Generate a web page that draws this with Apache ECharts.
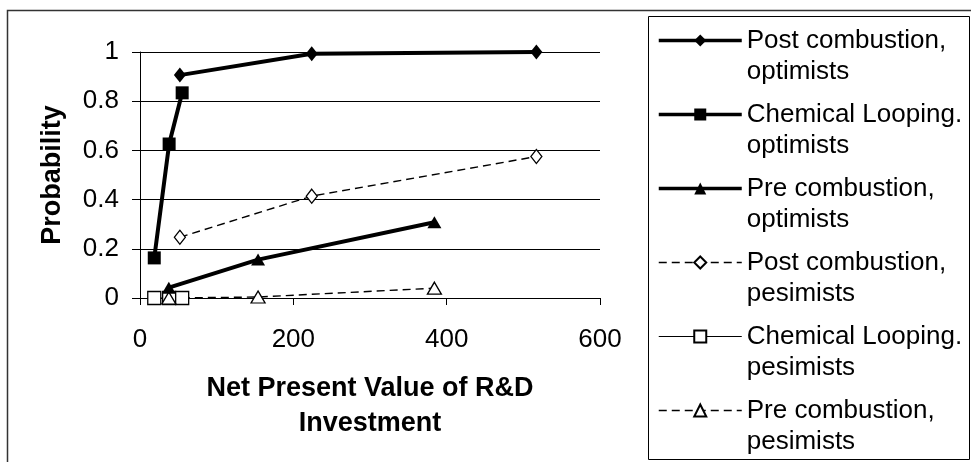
<!DOCTYPE html>
<html><head><meta charset="utf-8">
<script src="https://cdn.jsdelivr.net/npm/echarts@6/dist/echarts.min.js"></script>
<style>html,body{margin:0;padding:0;background:#fff}#c{width:971px;height:462px}</style>
</head><body><div id="c"></div>
<script>
const seriesNames = [
  'Post combustion,\noptimists',
  'Chemical Looping.\noptimists',
  'Pre combustion,\noptimists',
  'Post combustion,\npesimists',
  'Chemical Looping.\npesimists',
  'Pre combustion,\npesimists'
];
const xPostOpt = [52, 224, 517];
const yPostOpt = [0.906, 0.993, 1.0];
const xChemOpt = [18.6, 38, 55];
const yChemOpt = [0.163, 0.626, 0.834];
const xPreOpt = [37.6, 154, 384];
const yPreOpt = [0.042, 0.156, 0.308];
const xPostPes = [52, 224, 517];
const yPostPes = [0.247, 0.414, 0.575];
const xChemPes = [18.6, 38, 55];
const yChemPes = [0, 0, 0];
const xPrePes = [37.6, 154, 384];
const yPrePes = [0, 0.004, 0.04];
const xTicks = [0, 200, 400, 600];
const yTicks = [0, 0.2, 0.4, 0.6, 0.8, 1];
const xTitle = 'Net Present Value of R&D\nInvestment';
const yTitle = 'Probability';

const FONT = "'Liberation Sans', Arial, sans-serif";
const zip = (xs, ys) => xs.map((x, i) => [x, ys[i]]);

const chart = echarts.init(document.getElementById('c'), null, {renderer: 'canvas'});
function mk(name, xs, ys, sym, size, filled, width, dash) {
  return {
    name: name, type: 'line', data: zip(xs, ys),
    symbol: sym, symbolSize: size, showSymbol: true,
    lineStyle: {color: '#000', width: width, type: dash},
    itemStyle: {color: filled ? '#000' : '#fff', borderColor: '#000', borderWidth: filled ? 0 : 1.3},
    emphasis: {disabled: true},
    animation: false, clip: false
  };
}
const legendWidths = [3.5, 3.5, 3.5, 1.3, 1, 1.3];
const option = {
  animation: false,
  textStyle: {fontFamily: FONT},
  graphic: [
    {type: 'rect', shape: {x: 7.5, y: 10.5, width: 1000, height: 500}, style: {fill: 'none', stroke: '#333', lineWidth: 1.5}, z: -1, silent: true},
    {type: 'rect', shape: {x: 648.5, y: 16.5, width: 321, height: 443}, style: {fill: '#fff', stroke: '#000', lineWidth: 1}, z: 0, silent: true}
  ],
  grid: {left: 140, right: 371, top: 52, bottom: 164, containLabel: false},
  xAxis: {
    type: 'value', min: 0, max: 600, interval: 200,
    name: xTitle, nameLocation: 'middle', nameGap: 73,
    nameTextStyle: {fontFamily: FONT, fontSize: 27, fontWeight: 'bold', color: '#000', lineHeight: 35},
    axisLine: {show: true, lineStyle: {color: '#000', width: 1}},
    axisTick: {show: true, length: 7, lineStyle: {color: '#000'}},
    axisLabel: {fontFamily: FONT, fontSize: 26, color: '#000', margin: 29,
      formatter: v => xTicks.indexOf(v) >= 0 ? String(v) : ''},
    splitLine: {show: false}
  },
  yAxis: {
    type: 'value', min: 0, max: 1, interval: 0.2,
    name: yTitle, nameLocation: 'middle', nameGap: 74,
    nameTextStyle: {fontFamily: FONT, fontSize: 27, fontWeight: 'bold', color: '#000'},
    axisLine: {show: true, lineStyle: {color: '#000', width: 1}},
    axisTick: {show: true, length: 8, lineStyle: {color: '#000'}},
    axisLabel: {fontFamily: FONT, fontSize: 26, color: '#000', margin: 21,
      formatter: v => { const t = yTicks.find(k => Math.abs(k - v) < 1e-9); return t === undefined ? '' : String(t); }},
    splitLine: {show: true, lineStyle: {color: '#000', width: 1}}
  },
  legend: {
    orient: 'vertical', left: 657, top: -6, height: 1000,
    itemWidth: 83, itemHeight: 15, itemGap: -19,
    padding: 0,
    formatter: name => '\n' + name,
    textStyle: {fontFamily: FONT, fontSize: 26, color: '#000', lineHeight: 31},
    data: seriesNames.map((n, i) => ({name: n, lineStyle: {width: legendWidths[i]}})),
    selectedMode: false, z: 5
  },
  series: [
    mk(seriesNames[3], xPostPes, yPostPes, 'diamond', [11, 14], false, 1.4, [8, 5]),
    mk(seriesNames[4], xChemPes, yChemPes, 'rect', 13, false, 1, 'solid'),
    mk(seriesNames[5], xPrePes, yPrePes, 'triangle', [14, 12], false, 1.4, [8, 5]),
    mk(seriesNames[0], xPostOpt, yPostOpt, 'diamond', [12, 15], true, 4, 'solid'),
    mk(seriesNames[1], xChemOpt, yChemOpt, 'rect', 13, true, 4, 'solid'),
    mk(seriesNames[2], xPreOpt, yPreOpt, 'triangle', [14, 12], true, 4, 'solid')
  ]
};
chart.setOption(option);
</script></body></html>
